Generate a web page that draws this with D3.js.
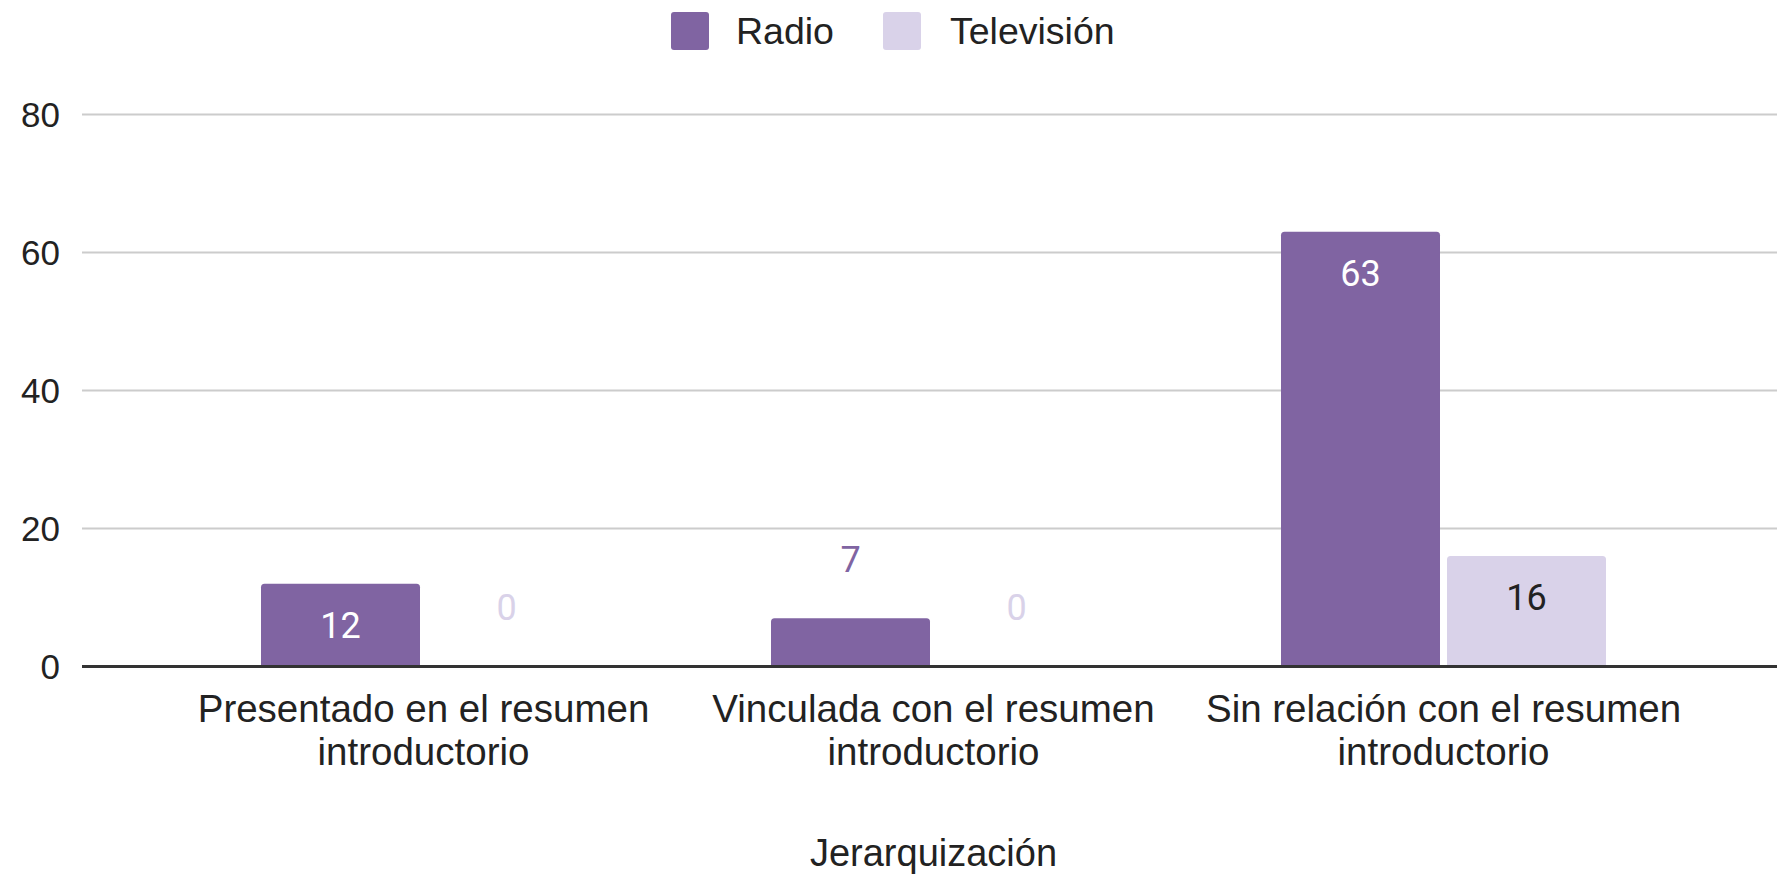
<!DOCTYPE html>
<html>
<head>
<meta charset="utf-8">
<script src="https://cdn.jsdelivr.net/npm/d3@7/dist/d3.min.js"></script>
<style>
  html, body { margin: 0; padding: 0; background: #fff; }
  svg { display: block; }
  .lbl { font-family: "Liberation Sans", Arial, sans-serif; fill: #222; }
  .val { font-family: Roboto, "Noto Sans", sans-serif; }
</style>
</head>
<body>
<svg id="chart" width="1777" height="876"></svg>
<script>
// Data
const categories = [
  ["Presentado en el resumen", "introductorio"],
  ["Vinculada con el resumen", "introductorio"],
  ["Sin relación con el resumen", "introductorio"]
];
const seriesNames = ["Radio", "Televisión"];
const radioValues = [12, 7, 63];
const tvValues = [0, 0, 16];
const yTicks = [0, 20, 40, 60, 80];
const axisTitle = "Jerarquización";

const colors = { "Radio": "#8064a2", "Televisión": "#d9d2e9" };
const insideText = { "Radio": "#ffffff", "Televisión": "#222222" };

const W = 1777, H = 876;
const svg = d3.select("#chart");

const catKeys = categories.map((c, i) => i);
const x0 = d3.scaleBand().domain(catKeys).range([168.5, 1698.5]).padding(0);
const x1 = d3.scaleBand().domain(seriesNames).range([92.5, 417.5]).paddingInner(7 / 166).paddingOuter(0);
const y = d3.scaleLinear().domain([0, 80]).range([666.5, 114.5]);

// Gridlines
svg.append("g").selectAll("line").data(yTicks.filter(t => t !== 0)).join("line")
  .attr("x1", 82).attr("x2", W)
  .attr("y1", d => y(d)).attr("y2", d => y(d))
  .attr("stroke", "#cccccc").attr("stroke-width", 2);

// Y tick labels
const yAxis = d3.axisLeft(y).tickValues(yTicks).tickSize(0).tickPadding(0);
const gy = svg.append("g").attr("transform", "translate(60,0)").call(yAxis);
gy.select(".domain").remove();
gy.selectAll("text")
  .attr("class", "lbl")
  .attr("font-size", 35)
  .attr("fill", "#222")
  .attr("dy", "0.35em");

// Bars
const rows = catKeys.map(i => ({
  i,
  values: [
    { s: "Radio", v: radioValues[i] },
    { s: "Televisión", v: tvValues[i] }
  ]
}));

function topRounded(x, yTop, w, h, r) {
  if (h <= 0) return "";
  r = Math.min(r, h, w / 2);
  return `M${x},${yTop + h}V${yTop + r}Q${x},${yTop} ${x + r},${yTop}` +
         `H${x + w - r}Q${x + w},${yTop} ${x + w},${yTop + r}V${yTop + h}Z`;
}

const groups = svg.append("g").selectAll("g").data(rows).join("g")
  .attr("transform", d => `translate(${x0(d.i)},0)`);

groups.selectAll("path").data(d => d.values).join("path")
  .attr("d", d => topRounded(x1(d.s), y(d.v), x1.bandwidth(), y(0) - y(d.v), 3.5))
  .attr("fill", d => colors[d.s]);

// Value labels: inside the bar when it is tall enough, otherwise above it
groups.selectAll("text").data(d => d.values).join("text")
  .attr("class", "val")
  .attr("font-size", 36)
  .attr("text-anchor", "middle")
  .attr("x", d => x1(d.s) + x1.bandwidth() / 2)
  .attr("y", d => {
    const h = y(0) - y(d.v);
    return h > 70 ? y(d.v) + 54 : y(d.v) - 46.5;
  })
  .attr("fill", d => (y(0) - y(d.v)) > 70 ? insideText[d.s] : colors[d.s])
  .text(d => d.v);

// Baseline
svg.append("line")
  .attr("x1", 82).attr("x2", W)
  .attr("y1", y(0)).attr("y2", y(0))
  .attr("stroke", "#333333").attr("stroke-width", 3);

// Category labels
const xl = svg.append("g").selectAll("text").data(rows).join("text")
  .attr("class", "lbl")
  .attr("font-size", 38.5)
  .attr("text-anchor", "middle")
  .attr("x", d => x0(d.i) + x0.bandwidth() / 2)
  .attr("y", 722);
xl.selectAll("tspan").data(d => categories[d.i]).join("tspan")
  .attr("x", function () { return d3.select(this.parentNode).attr("x"); })
  .attr("dy", (d, j) => j === 0 ? 0 : 43)
  .text(d => d);

// Axis title
svg.append("text")
  .attr("class", "lbl")
  .attr("font-size", 38)
  .attr("text-anchor", "middle")
  .attr("x", (82 + W) / 2 + 4)
  .attr("y", 866)
  .text(axisTitle);

// Legend
const legend = [
  { s: "Radio", x: 671, tx: 736 },
  { s: "Televisión", x: 883, tx: 950 }
];
const lg = svg.append("g").selectAll("g").data(legend).join("g");
lg.append("rect")
  .attr("x", d => d.x).attr("y", 12)
  .attr("width", 38).attr("height", 38)
  .attr("rx", 3)
  .attr("fill", d => colors[d.s]);
lg.append("text")
  .attr("class", "lbl")
  .attr("font-size", 37.5)
  .attr("x", d => d.tx)
  .attr("y", 44)
  .text(d => d.s);
</script>
</body>
</html>
